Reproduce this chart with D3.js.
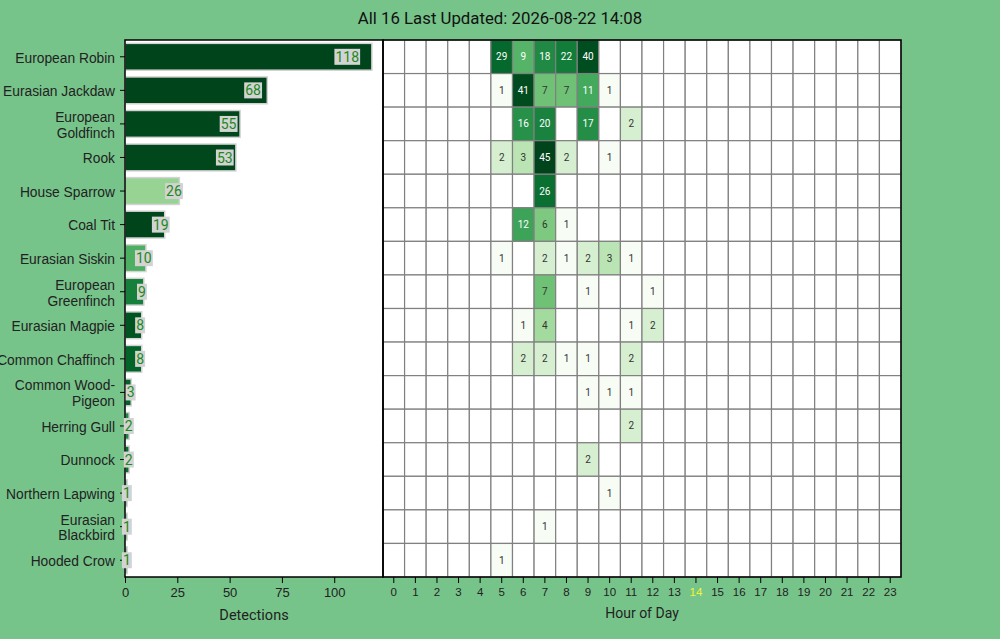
<!DOCTYPE html>
<html>
<head>
<meta charset="utf-8">
<script src="https://cdn.jsdelivr.net/npm/d3@7"></script>
<style>
  body { margin: 0; background: #77c48a; font-family: Roboto, sans-serif; }
  svg { display: block; }
</style>
</head>
<body>
<div id="main"></div>
<script>
// detections per species, sorted by total
const species = [
  'European Robin', 'Eurasian Jackdaw', 'European Goldfinch', 'Rook',
  'House Sparrow', 'Coal Tit', 'Eurasian Siskin', 'European Greenfinch',
  'Eurasian Magpie', 'Common Chaffinch', 'Common Wood-Pigeon', 'Herring Gull',
  'Dunnock', 'Northern Lapwing', 'Eurasian Blackbird', 'Hooded Crow'
];
const totals = [118, 68, 55, 53, 26, 19, 10, 9, 8, 8, 3, 2, 2, 1, 1, 1];
// max confidence per species, drives bar colour
const confidence = [1.0, 1.0, 0.99, 0.99, 0.40, 1.0, 0.60, 0.80, 0.95, 0.90, 0.90, 0.76, 0.86, 0.70, 0.70, 0.70];

// [hour, count] pairs per species
const hourly = [
  [[5, 29], [6, 9], [7, 18], [8, 22], [9, 40]],
  [[5, 1], [6, 41], [7, 7], [8, 7], [9, 11], [10, 1]],
  [[6, 16], [7, 20], [9, 17], [11, 2]],
  [[5, 2], [6, 3], [7, 45], [8, 2], [10, 1]],
  [[7, 26]],
  [[6, 12], [7, 6], [8, 1]],
  [[5, 1], [7, 2], [8, 1], [9, 2], [10, 3], [11, 1]],
  [[7, 7], [9, 1], [12, 1]],
  [[6, 1], [7, 4], [11, 1], [12, 2]],
  [[6, 2], [7, 2], [8, 1], [9, 1], [11, 2]],
  [[9, 1], [10, 1], [11, 1]],
  [[11, 2]],
  [[9, 2]],
  [[10, 1]],
  [[7, 1]],
  [[5, 1]]
];
const hours = ['0', '1', '2', '3', '4', '5', '6', '7', '8', '9', '10', '11',
  '12', '13', '14', '15', '16', '17', '18', '19', '20', '21', '22', '23'];
const barTicks = [0, 25, 50, 75, 100];
const currentHour = '14';
const title = 'All 16 Last Updated: 2026-08-22 14:08';

const width = 1000;
const height = 639;
const plotTop = 40, plotBottom = 577;
const barLeft = 125, split = 383, heatRight = 901;

const svg = d3.select('#main').append('svg')
  .attr('width', width)
  .attr('height', height);

svg.append('text')
  .attr('x', width / 2)
  .attr('y', 24)
  .attr('text-anchor', 'middle')
  .attr('font-size', 16.8)
  .attr('fill', '#111')
  .text(title);

// ---- bar chart ----
const xScale = d3.scaleLinear()
  .domain([0, d3.max(totals) * 1.045])
  .range([barLeft, split]);

const yScale = d3.scaleBand()
  .domain(species)
  .range([plotTop, plotBottom])
  .paddingInner(0.2)
  .paddingOuter(0.1);

const barColor = d3.scaleSequential(d3.interpolateGreens).domain([0, 1]);

svg.append('rect')
  .attr('x', barLeft).attr('y', plotTop)
  .attr('width', split - barLeft).attr('height', plotBottom - plotTop)
  .attr('fill', 'white');

const barG = svg.append('g');
barG.selectAll('rect')
  .data(species)
  .join('rect')
    .attr('x', xScale(0))
    .attr('y', d => yScale(d))
    .attr('width', (d, i) => xScale(totals[i]) - xScale(0))
    .attr('height', yScale.bandwidth())
    .attr('fill', (d, i) => barColor(confidence[i]))
    .attr('stroke', '#d3d3d3')
    .attr('stroke-width', 1.5);

const xAxisG = svg.append('g')
  .attr('transform', `translate(0,${plotBottom})`)
  .call(d3.axisBottom(xScale).tickValues(barTicks).tickSize(6).tickPadding(5));
xAxisG.selectAll('text').attr('font-size', 13).attr('fill', '#222');
xAxisG.select('.domain').remove();

const wrap = name => {
  if (name.length <= 16) return [name];
  const cut = Math.max(name.lastIndexOf(' '), name.lastIndexOf('-'));
  if (name[cut] === '-') return [name.slice(0, cut + 1), name.slice(cut + 1)];
  return [name.slice(0, cut), name.slice(cut + 1)];
};

const yAxisG = svg.append('g')
  .attr('transform', `translate(${barLeft},0)`)
  .call(d3.axisLeft(yScale).tickSize(5).tickPadding(4));
yAxisG.select('.domain').remove();
yAxisG.selectAll('.tick text').each(function (d) {
  const t = d3.select(this).text(null)
    .attr('font-size', 13.8).attr('fill', '#222').attr('dy', null);
  const lines = wrap(d);
  lines.forEach((ln, k) => {
    t.append('tspan')
      .attr('x', -10)
      .attr('y', lines.length === 1 ? 1 : (k === 0 ? -7 : 9))
      .attr('dy', '0.35em')
      .text(ln);
  });
});

svg.append('text')
  .attr('x', (barLeft + split) / 2)
  .attr('y', 620)
  .attr('text-anchor', 'middle')
  .attr('font-size', 14.5)
  .attr('fill', '#222')
  .text('Detections');

// ---- heatmap ----
const hScale = d3.scaleBand()
  .domain(hours)
  .range([split, heatRight]);

const rowScale = d3.scaleBand()
  .domain(species)
  .range([plotTop, plotBottom]);

const heatColor = d3.scaleSequentialLog(d3.interpolateGreens)
  .domain([1, d3.max(hourly.flat(), d => d[1])]);

const luminance = c => {
  const rgb = d3.rgb(c);
  const lin = v => { v /= 255; return v <= 0.03928 ? v / 12.92 : Math.pow((v + 0.055) / 1.055, 2.4); };
  return 0.2126 * lin(rgb.r) + 0.7152 * lin(rgb.g) + 0.0722 * lin(rgb.b);
};

const cells = [];
species.forEach((s, i) => {
  const lookup = new Map(hourly[i].map(([h, c]) => [String(h), c]));
  hours.forEach(h => cells.push({ s, h, v: lookup.get(h) }));
});

const heatG = svg.append('g');
heatG.selectAll('rect')
  .data(cells)
  .join('rect')
    .attr('x', d => hScale(d.h))
    .attr('y', d => rowScale(d.s))
    .attr('width', hScale.bandwidth())
    .attr('height', rowScale.bandwidth())
    .attr('fill', d => d.v ? heatColor(d.v) : 'white')
    .attr('stroke', '#808080')
    .attr('stroke-width', 1.2);

heatG.selectAll('text')
  .data(cells.filter(d => d.v))
  .join('text')
    .attr('x', d => hScale(d.h) + hScale.bandwidth() / 2)
    .attr('y', d => rowScale(d.s) + rowScale.bandwidth() / 2)
    .attr('dy', '0.35em')
    .attr('text-anchor', 'middle')
    .attr('font-size', 10)
    .attr('fill', d => luminance(heatColor(d.v)) > 0.408 ? '#333' : 'white')
    .text(d => d.v);

const hAxisG = svg.append('g')
  .attr('transform', `translate(0,${plotBottom})`)
  .call(d3.axisBottom(hScale).tickSize(6).tickPadding(5));
hAxisG.select('.domain').remove();
hAxisG.selectAll('text')
  .attr('font-size', 11.5)
  .attr('fill', d => d === currentHour ? '#eef536' : '#222');

svg.append('text')
  .attr('x', (split + heatRight) / 2)
  .attr('y', 618)
  .attr('text-anchor', 'middle')
  .attr('font-size', 14)
  .attr('fill', '#222')
  .text('Hour of Day');

// frames
[[barLeft, split], [split, heatRight]].forEach(([a, b]) => {
  svg.append('rect')
    .attr('x', a).attr('y', plotTop)
    .attr('width', b - a).attr('height', plotBottom - plotTop)
    .attr('fill', 'none')
    .attr('stroke', 'black')
    .attr('stroke-width', 1.5);
});

// count labels on bars, drawn over the frame
const labelG = svg.append('g').selectAll('g')
  .data(species)
  .join('g');

labelG.each(function (d, i) {
  const g = d3.select(this);
  const xc = xScale(0) + 0.9 * (xScale(totals[i]) - xScale(0));
  const yc = yScale(d) + yScale.bandwidth() / 2;
  const bg = g.append('rect').attr('fill', '#d3d3d3');
  const t = g.append('text')
    .attr('x', xc)
    .attr('y', yc)
    .attr('dy', '0.36em')
    .attr('text-anchor', 'middle')
    .attr('font-size', 14)
    .attr('fill', '#1a8a1a')
    .text(totals[i]);
  const bb = t.node().getBBox();
  bg.attr('x', bb.x - 1).attr('y', bb.y)
    .attr('width', bb.width + 2).attr('height', bb.height);
});
</script>
</body>
</html>
